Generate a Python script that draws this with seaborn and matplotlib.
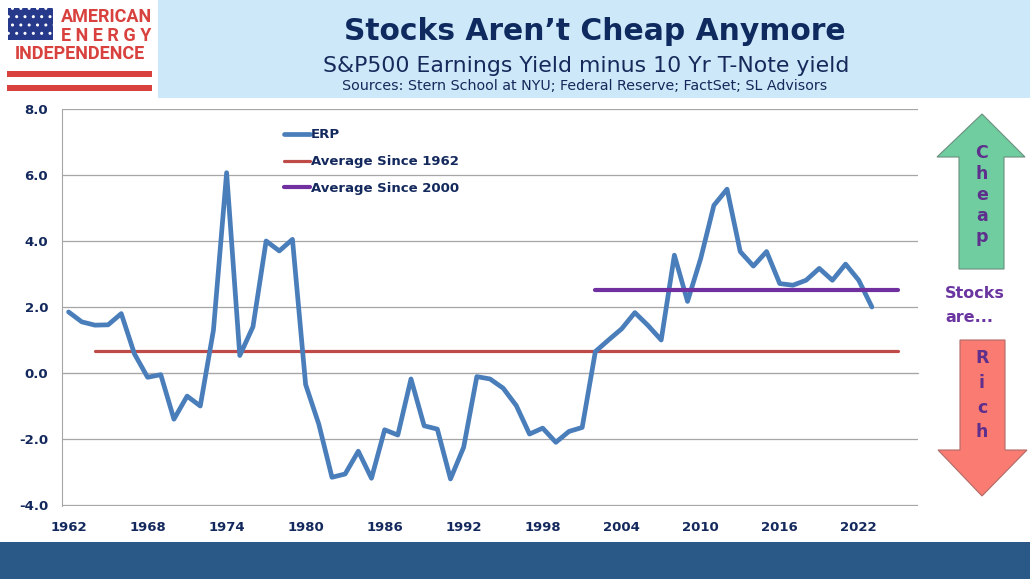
import numpy as np
import pandas as pd
import matplotlib
matplotlib.use("Agg")
import matplotlib.pyplot as plt
from matplotlib.patches import Rectangle, Polygon
import seaborn as sns

# data
years = list(range(1962, 2024))
erp = [1.85, 1.55, 1.45, 1.46, 1.80, 0.58, -0.13, -0.05, -1.40, -0.70,
       -1.00, 1.30, 6.07, 0.53, 1.40, 4.00, 3.70, 4.05,
       -0.35, -1.55, -3.16, -3.06, -2.37, -3.19, -1.72, -1.88, -0.18, -1.60,
       -1.70, -3.21, -2.25, -0.11, -0.18, -0.46, -0.99, -1.85, -1.67, -2.10,
       -1.77, -1.65,
       0.65, 1.00, 1.34, 1.83, 1.44, 1.00, 3.57, 2.17, 3.47, 5.08, 5.57,
       3.68, 3.24, 3.68, 2.71, 2.66, 2.81, 3.17, 2.81, 3.30, 2.81, 2.00]
avg_1962_years = [1964, 2025]
avg_1962 = 0.68
avg_2000_years = [2002, 2025]
avg_2000 = 2.52
year_labels = list(range(1962, 2023, 6))
y_ticks = [-4, -2, 0, 2, 4, 6, 8]

navy = "#13285c"
gray = "#a6a6a6"
purple = "#5e2f8c"

sns.set_style("white")
plt.rcParams["font.family"] = ["DejaVu Sans"]

W, H = 1030, 579
fig = plt.figure(figsize=(W / 100, H / 100), dpi=100)

# background layer in pixel coordinates
bg = fig.add_axes([0, 0, 1, 1], zorder=0)
bg.set_xlim(0, W)
bg.set_ylim(H, 0)
bg.axis("off")
bg.add_patch(Rectangle((158, 0), W - 158, 98, color="#cde8f9", lw=0))
bg.add_patch(Rectangle((0, 542), W, H - 542, color="#2b5987", lw=0))

# logo
red = "#d8413d"
bg.add_patch(Rectangle((8, 8), 45, 32, facecolor="#26398a", edgecolor="white",
                       hatch="..", lw=0))
bg.add_patch(Rectangle((7, 71), 145, 6, color=red, lw=0))
bg.add_patch(Rectangle((7, 85), 145, 6, color=red, lw=0))
bg.text(106, 17, "AMERICAN", ha="center", va="center", color=red,
        fontsize=13, weight="bold", family="Roboto")
bg.text(106, 36, "E N E R G Y", ha="center", va="center", color=red,
        fontsize=13, weight="bold", family="Roboto")
bg.text(80, 54, "INDEPENDENCE", ha="center", va="center", color=red,
        fontsize=13, weight="bold", family="Roboto")

# header text
bg.text(595, 40, "Stocks Aren\u2019t Cheap Anymore", ha="center", va="baseline",
        color="#0e2a5e", fontsize=21.4, weight="bold")
bg.text(586, 72, "S&P500 Earnings Yield minus 10 Yr T-Note yield", ha="center",
        va="baseline", color="#16295a", fontsize=15.8)
bg.text(585, 90.5, "Sources: Stern School at NYU; Federal Reserve; FactSet; SL Advisors",
        ha="center", va="baseline", color="#16295a", fontsize=10.3)

# cheap / rich arrows
bg.add_patch(Polygon([(959, 269), (959, 157), (937, 157), (982, 114),
                      (1025, 157), (1004, 157), (1004, 269)],
                     closed=True, facecolor="#70cda0", edgecolor="#6a8f7e", lw=0.8))
bg.add_patch(Polygon([(960, 340), (1005, 340), (1005, 450), (1027, 450),
                      (982, 496), (938, 450), (960, 450)],
                     closed=True, facecolor="#f97b72", edgecolor="#b06a66", lw=0.8))
for ch, yy in zip("Cheap", [153, 174, 195, 216, 237]):
    bg.text(982, yy, ch, ha="center", va="center", color=purple,
            fontsize=12.5, weight="bold")
for ch, yy in zip("Rich", [358, 383, 408, 432]):
    bg.text(982, yy, ch, ha="center", va="center", color=purple,
            fontsize=12.5, weight="bold")
bg.text(945, 294, "Stocks", ha="left", va="center", color="#6a35a0",
        fontsize=11.5, weight="bold")
bg.text(945, 318, "are...", ha="left", va="center", color="#6a35a0",
        fontsize=11.5, weight="bold")

# main chart
ax = fig.add_axes([62 / W, 1 - 506 / H, 856 / W, 397 / H], zorder=1)
ax.set_facecolor("none")

df = pd.DataFrame({"year": years, "ERP": erp})
sns.lineplot(data=df, x="year", y="ERP", ax=ax, color="#4a7ebb", lw=3.4,
             label="ERP", solid_capstyle="round", solid_joinstyle="round", zorder=3)
sns.lineplot(x=avg_1962_years, y=[avg_1962, avg_1962], ax=ax, color="#be4b48",
             lw=2.3, label="Average Since 1962", solid_capstyle="round", zorder=2)
sns.lineplot(x=avg_2000_years, y=[avg_2000, avg_2000], ax=ax, color="#7030a0",
             lw=3.0, label="Average Since 2000", solid_capstyle="round", zorder=4)

ax.set_xlim(1961.5, 2026.5)
ax.set_ylim(-4.03, 8.0)
ax.set_yticks(y_ticks)
ax.set_yticklabels([f"{v:.1f}" for v in y_ticks])
ax.yaxis.grid(True, color=gray, lw=0.9)
ax.set_axisbelow(True)
ax.set_xlabel("")
ax.set_ylabel("")

for side in ["top", "right"]:
    ax.spines[side].set_visible(False)
ax.spines["left"].set_color(gray)
ax.spines["bottom"].set_position(("data", 0))
ax.spines["bottom"].set_color(gray)

ax.set_xticks(np.arange(1961.5, 2027, 1))
ax.set_xticklabels([])
ax.tick_params(axis="x", length=4, width=0.8, color=gray, direction="out")
ax.tick_params(axis="y", length=4, width=0.8, color=gray, pad=6,
               labelcolor=navy, labelsize=9.5)
plt.setp(ax.get_yticklabels(), fontweight="bold")

sec = ax.secondary_xaxis(0.0)
sec.set_xticks(year_labels)
sec.set_xticklabels([str(y) for y in year_labels])
sec.tick_params(length=0, pad=11, labelcolor=navy, labelsize=9.5)
sec.spines["bottom"].set_visible(False)
plt.setp(sec.get_xticklabels(), fontweight="bold")

leg = ax.legend(loc="upper left", bbox_to_anchor=(0.2593, 0.951), frameon=False,
                handlelength=2.0, handletextpad=0.05, labelspacing=1.04,
                borderpad=0, borderaxespad=0,
                prop={"size": 9.5, "weight": "bold"})
for t in leg.get_texts():
    t.set_color(navy)

fig.savefig("out.png", dpi=100)
